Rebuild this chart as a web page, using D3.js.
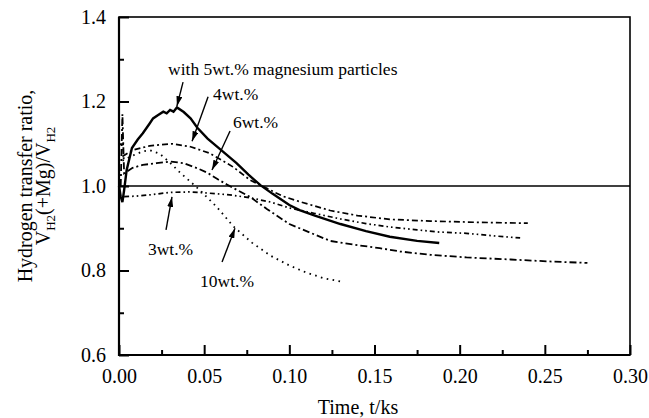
<!DOCTYPE html>
<html lang="en">
<head>
    <meta charset="UTF-8">
    <script src="https://d3js.org/d3.v7.min.js"></script>
    <title>Hydrogen transfer ratio</title>
    <style>
        body { margin: 0; background: #fff; }
        svg { display: block; font-family: "Liberation Serif", "DejaVu Serif", serif; }
        .axis path { display: none; }
        .axis line { stroke: #000; stroke-width: 2px; }
        .axis text { font-family: "Liberation Serif", serif; font-size: 20px; fill: #000; }
        .curve { fill: none; stroke: #000; }
    </style>
</head>
<body>
    <div id="chart"></div>
    <script>
        // tick values
        var xTicks = [0.00, 0.05, 0.10, 0.15, 0.20, 0.25, 0.30];
        var yTicks = [0.6, 0.8, 1.0, 1.2, 1.4];

        // curves: [time t/ks, ratio]
        var wt5 = [[0.000, 1.000], [0.001, 0.975], [0.002, 0.962], [0.003, 0.990], [0.0045, 1.038],
            [0.0076, 1.090], [0.011, 1.110], [0.014, 1.125], [0.018, 1.148], [0.020, 1.160],
            [0.023, 1.168], [0.026, 1.176], [0.028, 1.172], [0.030, 1.180], [0.032, 1.176],
            [0.034, 1.186], [0.038, 1.175], [0.042, 1.160], [0.046, 1.138], [0.052, 1.112],
            [0.060, 1.085], [0.069, 1.054], [0.076, 1.027], [0.083, 1.002], [0.090, 0.982],
            [0.100, 0.955], [0.106, 0.943], [0.115, 0.930], [0.130, 0.910], [0.145, 0.893],
            [0.159, 0.880], [0.175, 0.870], [0.188, 0.865]];

        var wt4 = [[0.002, 1.070], [0.008, 1.085], [0.018, 1.095], [0.031, 1.100], [0.042, 1.093],
            [0.053, 1.078], [0.060, 1.062], [0.067, 1.045], [0.077, 1.014], [0.085, 0.998],
            [0.096, 0.976], [0.106, 0.963], [0.124, 0.942], [0.140, 0.930], [0.159, 0.921],
            [0.183, 0.917], [0.210, 0.914], [0.240, 0.912]];

        var wt6 = [[0.001, 1.000], [0.002, 1.170], [0.003, 1.030], [0.008, 1.043], [0.014, 1.050],
            [0.022, 1.054], [0.030, 1.058], [0.038, 1.054], [0.046, 1.042], [0.052, 1.031],
            [0.058, 1.016], [0.064, 1.002], [0.077, 0.974], [0.087, 0.945], [0.100, 0.910],
            [0.106, 0.900], [0.124, 0.870], [0.140, 0.860], [0.153, 0.853], [0.165, 0.845],
            [0.183, 0.837], [0.204, 0.831], [0.230, 0.826], [0.255, 0.821], [0.275, 0.818]];

        var wt3 = [[0.003, 0.975], [0.010, 0.976], [0.018, 0.979], [0.030, 0.985], [0.042, 0.986],
            [0.053, 0.983], [0.065, 0.979], [0.077, 0.972], [0.089, 0.962], [0.100, 0.948],
            [0.115, 0.935], [0.130, 0.922], [0.145, 0.911], [0.159, 0.903], [0.175, 0.896],
            [0.188, 0.891], [0.204, 0.888], [0.220, 0.882], [0.2355, 0.877]];

        var wt10 = [[0.002, 1.060], [0.008, 1.072], [0.014, 1.082], [0.018, 1.085], [0.024, 1.076],
            [0.030, 1.055], [0.036, 1.031], [0.042, 1.010], [0.048, 0.988], [0.0575, 0.950],
            [0.067, 0.905], [0.078, 0.866], [0.089, 0.835], [0.100, 0.812], [0.110, 0.795],
            [0.120, 0.782], [0.130, 0.774]];

        var svg = d3.select("#chart")
            .append("svg")
            .attr("width", 649)
            .attr("height", 418);

        var x = d3.scaleLinear().domain([0, 0.30]).range([119, 630]);
        var y = d3.scaleLinear().domain([0.6, 1.4]).range([355, 17]);

        // arrow head
        svg.append("defs").append("marker")
            .attr("id", "head")
            .attr("viewBox", "0 0 10 6")
            .attr("refX", 10).attr("refY", 3)
            .attr("markerWidth", 10).attr("markerHeight", 6)
            .attr("markerUnits", "userSpaceOnUse")
            .attr("orient", "auto")
            .append("path")
            .attr("d", "M0,0L10,3L0,6Z")
            .attr("fill", "#000");

        // axes, ticks pointing inward
        svg.append("g")
            .attr("class", "axis")
            .attr("transform", "translate(0," + y(0.6) + ")")
            .call(d3.axisBottom(x).tickValues(xTicks).tickSize(-10).tickPadding(14)
                .tickFormat(d3.format(".2f")));
        svg.append("g")
            .attr("class", "axis")
            .attr("transform", "translate(0," + y(0.6) + ")")
            .call(d3.axisBottom(x).tickValues(d3.range(0.025, 0.3, 0.05)).tickSize(-5).tickFormat(""));

        svg.append("g")
            .attr("class", "axis")
            .attr("transform", "translate(" + x(0) + ",0)")
            .call(d3.axisLeft(y).tickValues(yTicks).tickSize(-10).tickPadding(13)
                .tickFormat(d3.format(".1f")));
        svg.append("g")
            .attr("class", "axis")
            .attr("transform", "translate(" + x(0) + ",0)")
            .call(d3.axisLeft(y).tickValues([0.7, 0.9, 1.1, 1.3]).tickSize(-5).tickFormat(""));

        // frame
        svg.append("rect")
            .attr("x", x(0)).attr("y", y(1.4))
            .attr("width", x(0.30) - x(0)).attr("height", y(0.6) - y(1.4))
            .attr("fill", "none").attr("stroke", "#000").attr("stroke-width", 1.6);
        svg.append("path")
            .attr("d", d3.line()([[x(0), y(1.4)], [x(0), y(0.6)], [x(0.30), y(0.6)]]))
            .attr("fill", "none").attr("stroke", "#000").attr("stroke-width", 2.2);

        // ratio = 1 reference
        svg.append("line")
            .attr("x1", x(0)).attr("x2", x(0.30))
            .attr("y1", y(1.0)).attr("y2", y(1.0))
            .attr("stroke", "#000").attr("stroke-width", 1.4);

        var line = d3.line()
            .x(function (d) { return x(d[0]); })
            .y(function (d) { return y(d[1]); });

        var curves = [
            { data: wt10, dash: "1.6,4.4", width: 1.8 },
            { data: wt3, dash: "5,3,1.6,3,1.6,3", width: 1.7 },
            { data: wt6, dash: "7,3,2,3", width: 1.8 },
            { data: wt4, dash: "6,3,2,3", width: 1.7 },
            { data: wt5, dash: null, width: 2.4 }
        ];

        svg.selectAll(".curve")
            .data(curves)
            .enter().append("path")
            .attr("class", "curve")
            .attr("d", function (d) { return line(d.data); })
            .attr("stroke-width", function (d) { return d.width; })
            .attr("stroke-dasharray", function (d) { return d.dash; });

        // labels with arrows (in data units)
        var notes = [
            { text: "with 5wt.% magnesium particles", at: [0.0288, 1.263], from: [0.0376, 1.246], to: [0.034, 1.189] },
            { text: "4wt.%", at: [0.0552, 1.204], from: [0.0523, 1.211], to: [0.0429, 1.106] },
            { text: "6wt.%", at: [0.0669, 1.137], from: [0.0652, 1.130], to: [0.0546, 1.038] },
            { text: "3wt.%", at: [0.017, 0.837], from: [0.0276, 0.896], to: [0.0311, 0.974] },
            { text: "10wt.%", at: [0.0476, 0.761], from: [0.0605, 0.820], to: [0.0681, 0.900] }
        ];

        svg.selectAll(".note")
            .data(notes)
            .enter().append("text")
            .attr("class", "note")
            .attr("x", function (d) { return x(d.at[0]); })
            .attr("y", function (d) { return y(d.at[1]); })
            .attr("font-size", 17.5)
            .text(function (d) { return d.text; });

        svg.selectAll(".arrow")
            .data(notes)
            .enter().append("line")
            .attr("class", "arrow")
            .attr("x1", function (d) { return x(d.from[0]); })
            .attr("y1", function (d) { return y(d.from[1]); })
            .attr("x2", function (d) { return x(d.to[0]); })
            .attr("y2", function (d) { return y(d.to[1]); })
            .attr("stroke", "#000")
            .attr("stroke-width", 1.4)
            .attr("marker-end", "url(#head)");

        // axis titles
        svg.append("text")
            .attr("x", 358)
            .attr("y", 414)
            .attr("text-anchor", "middle")
            .attr("font-size", 20)
            .text("Time, t/ks");

        svg.append("text")
            .attr("transform", "rotate(-90)")
            .attr("x", -y(1.0))
            .attr("y", 32)
            .attr("text-anchor", "middle")
            .attr("font-size", 20)
            .text("Hydrogen transfer ratio,");

        var yt = svg.append("text")
            .attr("transform", "rotate(-90)")
            .attr("x", -y(1.0))
            .attr("y", 50)
            .attr("text-anchor", "middle")
            .attr("font-size", 20);
        yt.append("tspan").text("V");
        yt.append("tspan").attr("dy", 5).attr("font-size", 13).text("H2");
        yt.append("tspan").attr("dy", -5).text("(+Mg)/V");
        yt.append("tspan").attr("dy", 5).attr("font-size", 13).text("H2");
    </script>
</body>
</html>
